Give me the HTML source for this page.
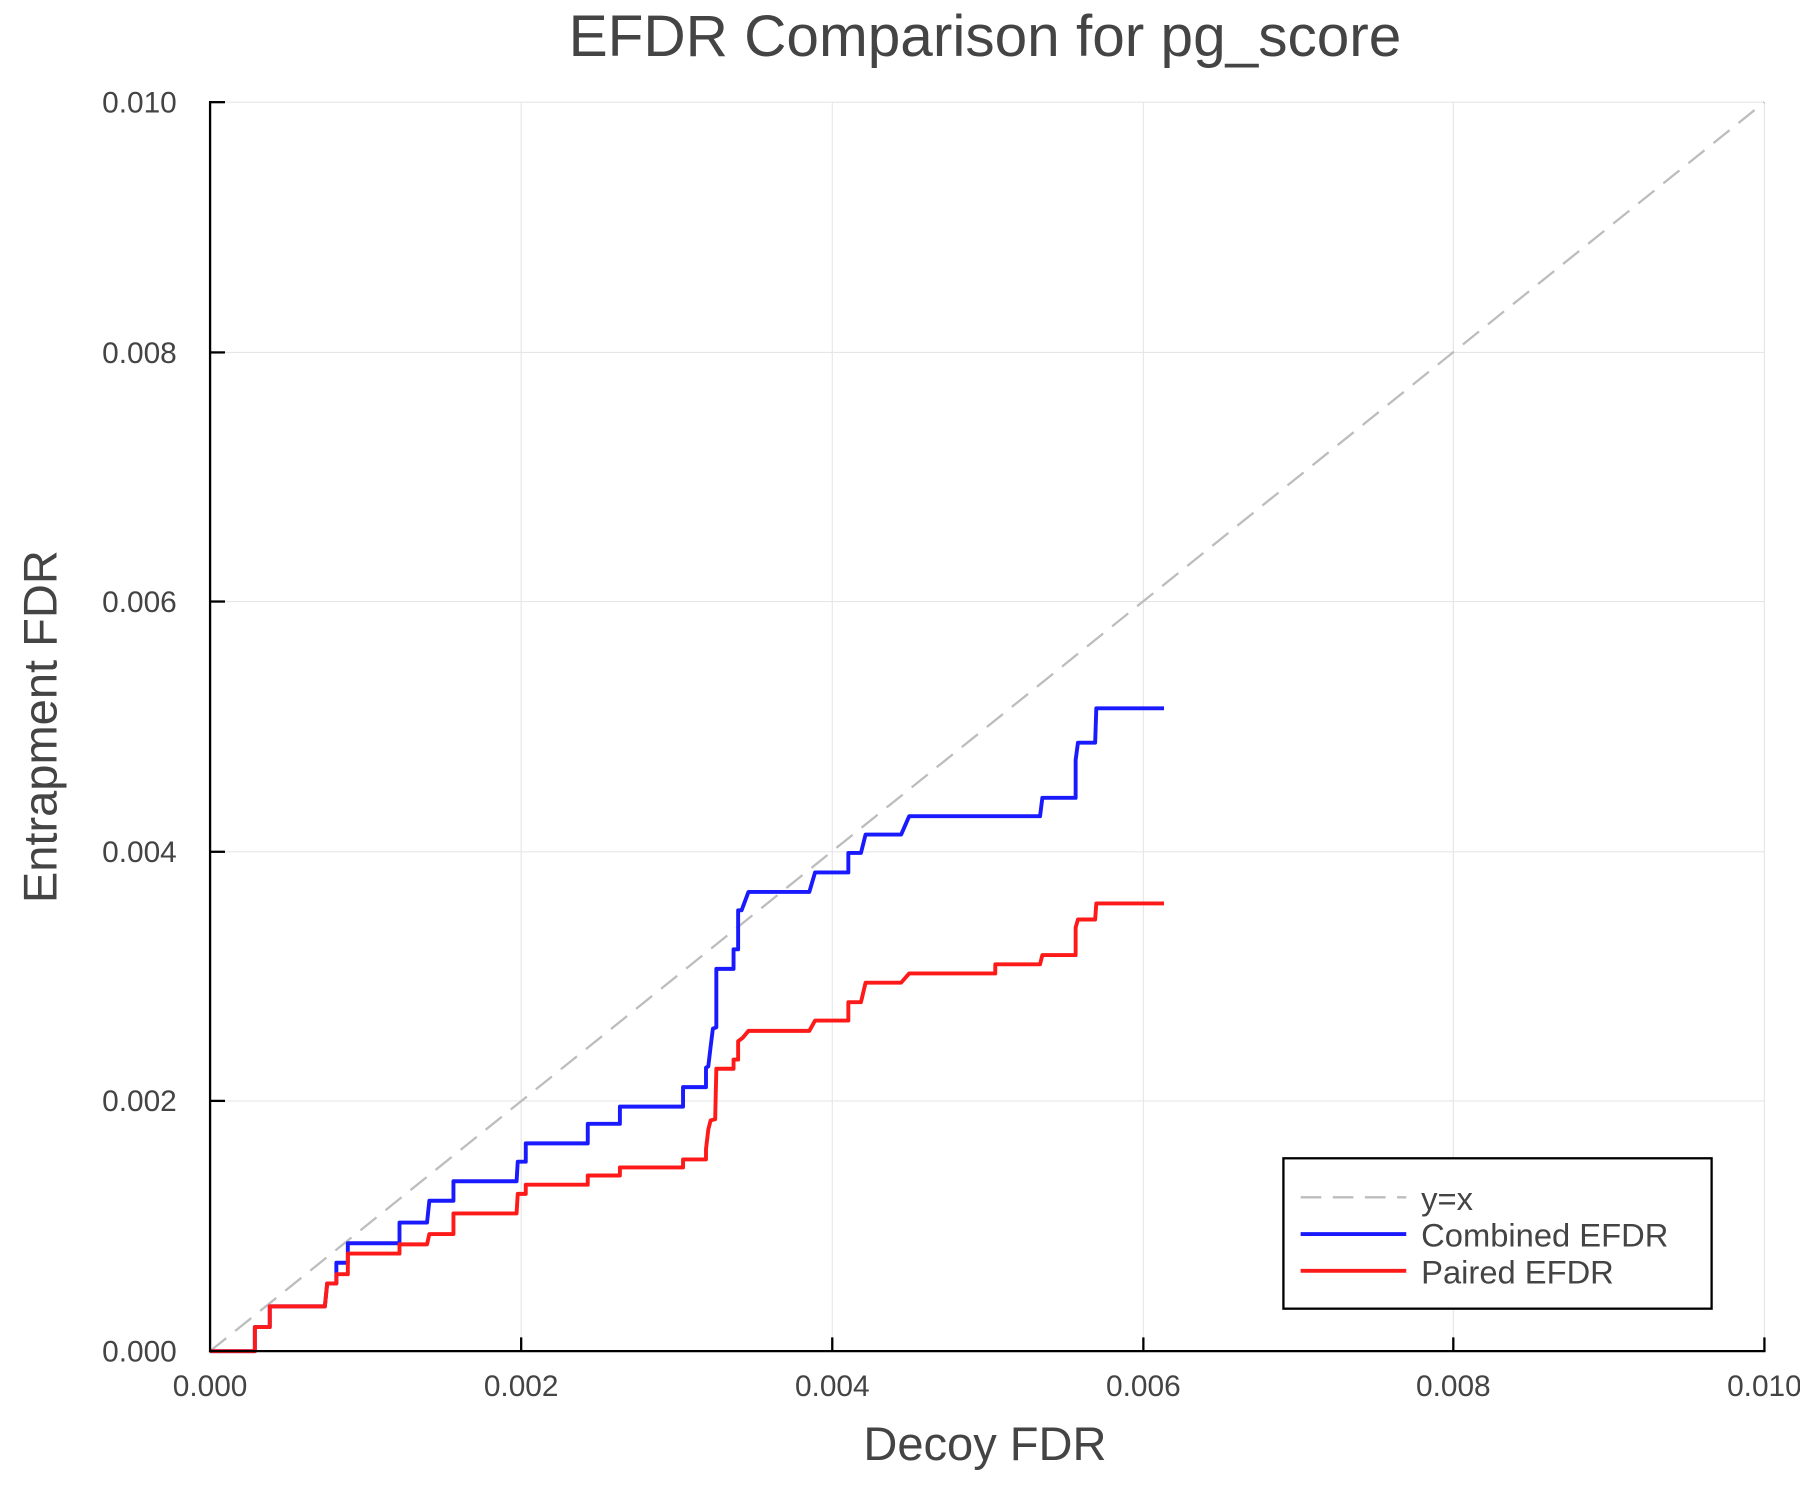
<!DOCTYPE html>
<html><head><meta charset="utf-8"><style>html,body{margin:0;padding:0;background:#fff}svg{display:block}</style></head>
<body>
<svg width="1800" height="1500" viewBox="0 0 1568 1306.67" xmlns="http://www.w3.org/2000/svg" font-family="Liberation Sans, Arial, sans-serif">
<rect width="1568" height="1306.67" fill="#fff"/>
<g stroke="#e6e6e6" stroke-width="1">
<line x1="454" y1="89" x2="454" y2="1177"/><line x1="725" y1="89" x2="725" y2="1177"/><line x1="996" y1="89" x2="996" y2="1177"/><line x1="1266" y1="89" x2="1266" y2="1177"/><line x1="1537" y1="89" x2="1537" y2="1177"/>
<line x1="183" y1="959" x2="1537" y2="959"/><line x1="183" y1="742" x2="1537" y2="742"/><line x1="183" y1="524" x2="1537" y2="524"/><line x1="183" y1="307" x2="1537" y2="307"/><line x1="183" y1="89" x2="1537" y2="89"/>
</g>
<line x1="183" y1="1177" x2="1537" y2="89" stroke="#bdbdbd" stroke-width="2" stroke-dasharray="18,10"/>
<polyline fill="none" stroke="#1a1aff" stroke-width="3.4" stroke-linejoin="round" points="183,1177 222,1177 222,1156 235,1156 235,1138 283,1138 285,1118 293,1118 293,1100 303,1100 303,1083 348,1083 348,1065 372,1065 374,1046 395,1046 395,1029 450,1029 451,1012 458,1012 458,996 512,996 512,979 540,979 540,964 595,964 595,947 615,947 615,930 617,929 619,912 621,896 624,895 624,844 639,844 639,827 643,827 643,793 646,793 652,777 705,777 710,760 739,760 739,743 750,743 754,727 785,727 792,711 906,711 908,695 937,695 937,662 939,647 954,647 955,617 1014,617"/>
<polyline fill="none" stroke="#ff1a1a" stroke-width="3.4" stroke-linejoin="round" points="183,1177 222,1177 222,1156 235,1156 235,1138 283,1138 285,1118 293,1118 293,1110 303,1110 303,1092 348,1092 348,1084 372,1084 374,1075 395,1075 395,1057 450,1057 451,1040 458,1040 458,1032 512,1032 512,1024 540,1024 540,1017 595,1017 595,1010 615,1010 615,1001 617,984 619,976 623,975 624,931 639,931 639,923 643,923 643,907 647,904 652,898 705,898 710,889 739,889 739,873 750,873 754,856 785,856 792,848 867,848 867,840 906,840 908,832 937,832 937,808 939,801 954,801 955,787 1014,787"/>
<g stroke="#000" stroke-width="2">
<line x1="183" y1="88" x2="183" y2="1178"/><line x1="182" y1="1177" x2="1538" y2="1177"/>
<line x1="454" y1="1177" x2="454" y2="1165"/><line x1="725" y1="1177" x2="725" y2="1165"/><line x1="996" y1="1177" x2="996" y2="1165"/><line x1="1266" y1="1177" x2="1266" y2="1165"/><line x1="1537" y1="1177" x2="1537" y2="1165"/>
<line x1="183" y1="959" x2="196" y2="959"/><line x1="183" y1="742" x2="196" y2="742"/><line x1="183" y1="524" x2="196" y2="524"/><line x1="183" y1="307" x2="196" y2="307"/><line x1="183" y1="89" x2="196" y2="89"/>
</g>
<g fill="#444" font-size="26" text-anchor="end">
<text x="154" y="1186">0.000</text><text x="154" y="968">0.002</text><text x="154" y="751">0.004</text><text x="154" y="533">0.006</text><text x="154" y="316">0.008</text><text x="154" y="98">0.010</text>
</g>
<g fill="#444" font-size="26" text-anchor="middle">
<text x="183" y="1216">0.000</text><text x="454" y="1216">0.002</text><text x="725" y="1216">0.004</text><text x="996" y="1216">0.006</text><text x="1266" y="1216">0.008</text><text x="1537" y="1216">0.010</text>
</g>
<text x="858" y="1272" fill="#444" font-size="41" text-anchor="middle">Decoy FDR</text>
<text transform="translate(49,633) rotate(-90)" fill="#444" font-size="41" text-anchor="middle">Entrapment FDR</text>
<text x="858" y="49" fill="#444" font-size="51" text-anchor="middle">EFDR Comparison for pg_score</text>
<rect x="1118" y="1009" width="373" height="131" fill="#fff" stroke="#000" stroke-width="2"/>
<line x1="1133" y1="1043" x2="1225" y2="1043" stroke="#bdbdbd" stroke-width="2" stroke-dasharray="18,10"/>
<line x1="1133" y1="1075" x2="1225" y2="1075" stroke="#1a1aff" stroke-width="3.4"/>
<line x1="1133" y1="1107" x2="1225" y2="1107" stroke="#ff1a1a" stroke-width="3.4"/>
<g fill="#444" font-size="28.5">
<text x="1238" y="1054">y=x</text><text x="1238" y="1086">Combined EFDR</text><text x="1238" y="1118">Paired EFDR</text>
</g>
</svg>
</body></html>
